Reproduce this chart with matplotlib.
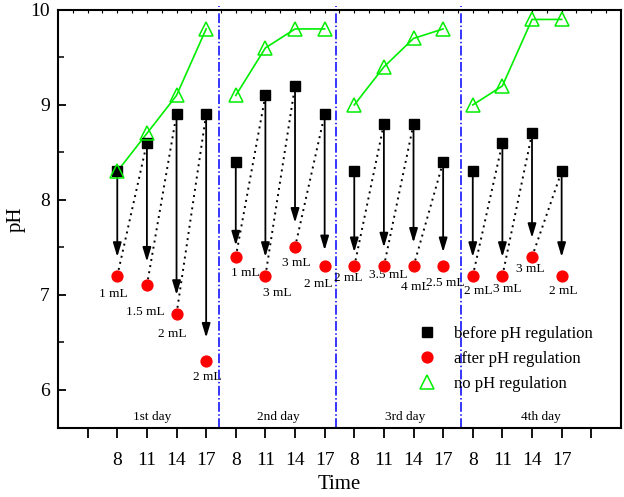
import matplotlib
matplotlib.use('Agg')
import matplotlib.pyplot as plt
from matplotlib.lines import Line2D
from matplotlib.ticker import MultipleLocator

plt.rcParams['font.family'] = ['Liberation Serif', 'DejaVu Serif']

# --- data ---
times = ['8', '11', '14', '17']
days = ['1st day', '2nd day', '3rd day', '4th day']
before_ph = [8.3, 8.6, 8.9, 8.9, 8.4, 9.1, 9.2, 8.9,
             8.3, 8.8, 8.8, 8.4, 8.3, 8.6, 8.7, 8.3]
after_ph = [7.2, 7.1, 6.8, 6.3, 7.4, 7.2, 7.5, 7.3,
            7.3, 7.3, 7.3, 7.3, 7.2, 7.2, 7.4, 7.2]
no_reg_ph = [8.3, 8.7, 9.1, 9.8, 9.1, 9.6, 9.8, 9.8,
             9.0, 9.4, 9.7, 9.8, 9.0, 9.2, 9.9, 9.9]
arrow_tip = [7.4, 7.35, 7.0, 6.55, 7.52, 7.4, 7.76, 7.47,
             7.45, 7.5, 7.55, 7.45, 7.4, 7.4, 7.6, 7.4]
dose = ['1 mL', '1.5 mL', '2 mL', '2 mL', '1 mL', '3 mL', '3 mL', '2 mL',
        '2 mL', '3.5 mL', '4 mL', '2.5 mL', '2 mL', '3 mL', '3 mL', '2 mL']
day_sep = [5.45, 9.4, 13.6]

# label offsets from the red dots (pixels, y down)
lab_off = [(-4, 18), (-2, 27), (-4, 20), (1, 16),
           (10, 16), (12, 17), (1, 16), (-6, 18),
           (-6, 12), (4, 9), (2, 21), (2, 17),
           (5, 15), (5, 13), (-2, 12), (2, 15)]

n_t = len(times)
xs = [2 + d * n_t + j for d in range(len(days)) for j in range(n_t)]

fig = plt.figure(figsize=(6.24, 4.97), dpi=100, facecolor='white')
ax = fig.add_axes([0.093, 0.139, 0.902, 0.841])

for d in range(len(days)):
    sl = slice(d * n_t, (d + 1) * n_t)
    ax.plot(xs[sl], no_reg_ph[sl], color='#00ee00', lw=1.2, zorder=3)
    # dotted link: after value -> next before value
    for j in range(d * n_t, (d + 1) * n_t - 1):
        ax.plot([xs[j], xs[j + 1]], [after_ph[j], before_ph[j + 1]],
                color='black', lw=1.4, dashes=(1, 2.2), zorder=2)

for i, x in enumerate(xs):
    ax.annotate('', xy=(x, arrow_tip[i]), xytext=(x, before_ph[i]),
                arrowprops=dict(arrowstyle='-|>,head_length=0.6,head_width=0.18',
                                mutation_scale=14, lw=1.3, color='black',
                                shrinkA=0, shrinkB=0), zorder=2)
    dx, dy = lab_off[i]
    ax.annotate(dose[i], (x, after_ph[i]), xytext=(dx * 0.72, -dy * 0.72),
                textcoords='offset points', ha='center', va='center', fontsize=9.6)

ax.plot(xs, before_ph, 's', color='black', ms=6.7, ls='none', zorder=4)
ax.plot(xs, after_ph, 'o', color='red', ms=7.8, ls='none', zorder=4)
ax.plot(xs, no_reg_ph, '^', mfc='none', mec='#00ee00', mew=1.1, ms=10, ls='none', zorder=5)

for xv in day_sep:
    ax.plot([xv, xv], [5.6, 10.04], color='blue', lw=1.1, ls='-.', clip_on=False, zorder=1)

for d, name in enumerate(days):
    ax.text([3.18, 7.43, 11.72, 16.3][d], 5.72, name, ha='center', va='center', fontsize=9.6)

ax.set_xlim(0, 19)
ax.set_ylim(5.6, 10)
ax.set_xticks(range(1, 19))
ax.set_xticklabels([''] + times * len(days) + [''])
ax.set_yticks([6, 7, 8, 9, 10])
ax.yaxis.set_minor_locator(MultipleLocator(0.5))
ax.tick_params(axis='x', direction='out', length=7, width=1.3, labelsize=14, pad=10)
ax.tick_params(axis='y', which='major', direction='in', length=6, width=1.3, labelsize=14, pad=6)
ax.tick_params(axis='y', which='minor', direction='in', length=4, width=1.1)
secx = ax.secondary_xaxis('top')
secx.set_xticks([k * 0.5 for k in range(1, 38)])
secx.tick_params(direction='in', length=2, width=0.8, labeltop=False)
secx.spines['top'].set_visible(False)
for s in ax.spines.values():
    s.set_linewidth(1.5)

ax.set_xlabel('Time', fontsize=15)
ax.set_ylabel('pH', fontsize=15)
ax.xaxis.set_label_coords(0.5, -0.112)
ax.yaxis.set_label_coords(-0.057, 0.5)

handles = [
    Line2D([], [], marker='s', color='black', ms=6.7, ls='none'),
    Line2D([], [], marker='o', color='red', ms=7.8, ls='none'),
    Line2D([], [], marker='^', mfc='none', mec='#00ee00', mew=1.1, ms=10, ls='none'),
]
ax.legend(handles, ['before pH regulation', 'after pH regulation', 'no pH regulation'],
          loc='upper left', bbox_to_anchor=(0.641, 0.245), frameon=False, fontsize=12,
          handlelength=1, handletextpad=1.1, labelspacing=0.55, borderaxespad=0, borderpad=0)

fig.savefig('out.png', dpi=100, facecolor='white')
